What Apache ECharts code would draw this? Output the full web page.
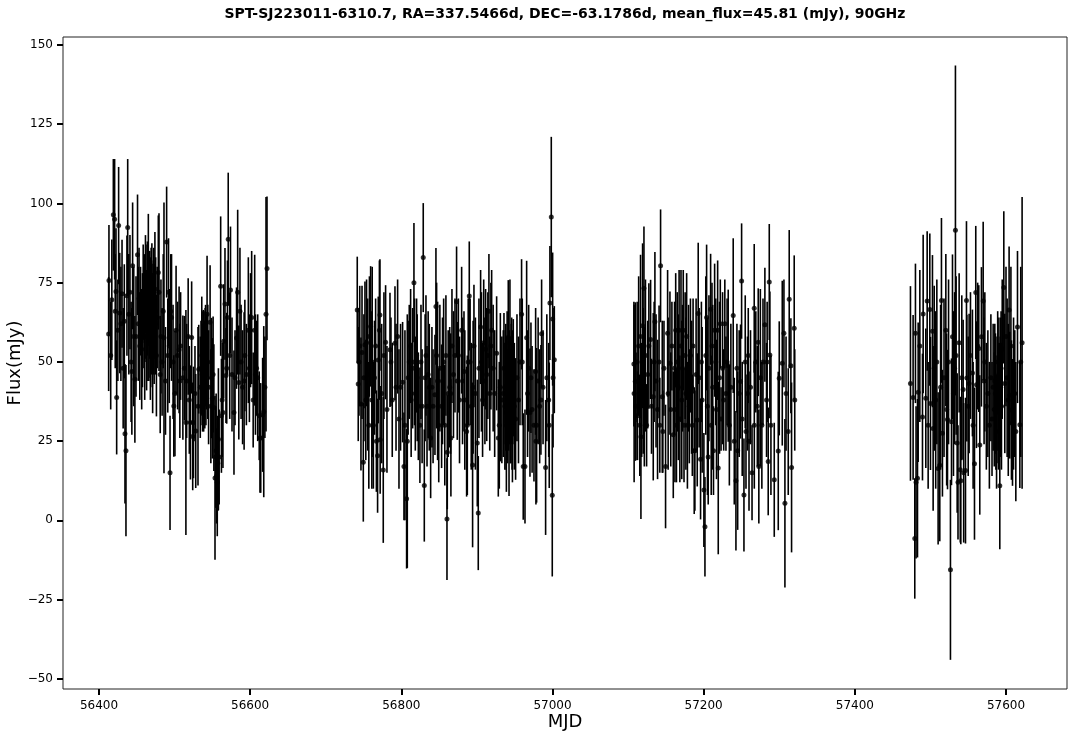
<!DOCTYPE html>
<html><head><meta charset="utf-8">
<style>html,body{margin:0;padding:0;background:#fff}#c{width:1081px;height:739px}</style>
<script src="https://cdn.jsdelivr.net/npm/echarts@6/dist/echarts.min.js"></script>
</head><body><div id="c"></div>
<script>
// each row: MJD, flux (mJy), 1-sigma error (mJy)
const season2013 = [
[56412.8,58.8,18],[56413.2,75.7,17.5],[56415.5,52,17],[56417,69.6,19],[56419,96.4,17.6],[56420.7,95,19],[56421.5,66,18],[56422.5,72.2,20],[56423.4,38.8,18],[56425,60,16],[56426,93,18.5],[56427.5,65.4,19],[56429,62,18],[56430.5,71.5,17],[56432,48,19],[56433.5,62.8,18],[56434.4,27.3,22],[56435.7,22,27],[56437,70.9,19],[56438,92.4,21.6],[56439.5,65,19],[56441,72,18],[56442.5,50,19],[56443.5,47,20],[56444.5,80.3,20],[56446,58,22],[56447.5,44.5,20],[56449,58,19],[56451,83.8,19],
[56452,62,18],[56453,70,16],[56454,55,17],[56455,66,14],[56456.5,54,19],[56457.5,60,18],[56458.5,72,15],[56459.5,64,16],[56460,70,14],[56460.5,58,20],[56461,66,15],[56461.5,75,15],[56462.3,64,14],[56463,60,19],[56463.6,72,15],[56464,70,18],[56464.7,60,16],[56465.3,78,18.7],[56466,62,18],[56466.5,70,15],[56467,68,17],[56467.6,60,15],[56468,56,18],[56468.5,68,15],[56469,72,14],[56469.6,62,16],[56470,70,17.4],[56470.5,60,18],[56471,52,18.2],[56471.5,66,15],[56472,64,18],[56472.5,72,14],[56473,60,17],[56473.5,66,15],[56474,73,18],[56474.5,62,16],[56475,66,17],[56476,52,19.2],[56477,64,16],[56478.5,78.2,18],[56479.4,72,24.9],
[56481,46,18.5],[56482,58,18],[56483.5,50,17],[56485,66,18],[56486,57.6,42.7],[56488,44,17],[56489.5,87.8,17.5],[56491,52,18],[56492,72,17],[56493,55,18],[56494,15,18],[56495,66,18],[56496,64,20],[56498,50,18],[56499,36.1,16],[56500.5,40,19.8],[56502,60,20.3],[56504,52,17],[56506,53.8,20],[56507,44,18],[56508,55,17],[56511,45,19.6],[56513,48,16.5],[56515,30.9,35.5],[56516,44,18],[56518,58,18.4],[56519.5,38,17],[56521,30.9,18],[56522.6,57.7,17.7],[56524,26.5,17],[56525,30.9,17.6],[56527,40,15],[56528,28.2,18],[56531,36,25],[56532,47.7,14],[56534,42,16],[56535,48,15],[56536,52,18.6],[56536.5,46,16],[56537,45,17],[56537.5,50,16],[56538,48,18.4],[56538.5,44,16],[56539,50,16],[56539.5,46,16],[56540,46,17],[56540.5,52,15],[56541,52,16],[56541.5,46,16],[56542,50,15],[56543,65,18.5],[56544,50,18],[56545,42,18],[56547,62.5,18],[56548,36,18],[56549,44.9,19],[56550,38.5,19],[56551,46,18.3],[56552,35.6,20],[56553.5,13.4,25.8],[56554.5,20,16],[56555,22,18],[56555.6,14,15],[56556.5,12,17],[56557.2,18,15],[56558,25.6,22.4],[56559,20,15],[56561,73.9,22],[56562,33,18],[56563,38,18],[56564,34,17.5],[56565,56.5,18],[56566.7,68.3,17.6],[56568,45.7,15],[56569,48,17.5],[56570,64,18],[56571,88.7,21],[56573,52,20],[56574,72.7,20],[56576,46,18],[56578.6,34,19.6],[56580,45,15],[56582,57.5,16],[56583.5,72,26],[56585,43.5,18],[56586.5,66,20],[56588,50,18],[56590,42,18],[56592,44,21.7],[56593,52,17.6],[56595,46,16],[56597.6,60,23],[56599,48,17],[56600.5,60,18],[56602,64,21],[56604,38,15],[56606,60,23.8],[56607,46,19],[56608.5,48,15],[56610,45,20],[56612,33,14],[56613,26,17.3],[56614,26,17.3],[56616.5,33.3,18],[56618,34.3,27],[56619.5,42,16],[56621,65,37],[56622.3,79.5,22.7]
];
const season2014 = [
[56741.7,66.4,16.8],[56743,43,18],[56744,50,17],[56745,55,19],[56746.6,36.7,21],[56748,53,21],[56749.7,18.3,18.7],[56750.5,45,20],[56751.9,55.4,20],[56753,38,19],[56754,56,20],[56755.5,46,24],[56757,30,20],[56757.8,58,19],[56759.4,61.2,19],[56761,38,28],[56761.5,50,30],[56763,30,20],[56764.5,45,18],[56766,55,15],[56767,25,16],[56768.6,20.4,18],[56769.5,50.6,20],[56771,60,22],[56771.7,64.8,17.6],[56772,25.4,17],[56774,40,22],[56776.1,15.9,23],[56777,52,20],[56779.2,56.2,18],[56781,35,20],[56785,53.8,18],[56786.3,50,14],[56788,38,18],[56791.6,55.9,18],[56793,42,20],[56795.1,58,18],[56796.9,32,22],[56799,42,20],[56801.7,43.6,19],[56803.5,17,17],[56804.8,30,30],[56807,6.8,22],[56807.9,25,40],[56809,45,18],[56810.5,50,18],[56812.3,55,18],[56813,38,18],[56815,48,19],[56816.7,75,18.8],[56817.5,50,20],[56818.5,40,18],[56820.2,52,18],[56821,45,20],[56822.5,36,17],[56824.6,30,18.2],[56826,50,18],[56827.5,36,18],[56829,82.9,17.2],[56830.4,11,17.7],[56831.5,45,20],[56832.6,52,19],[56834,36,19],[56835.5,46,20],[56837,42,20],[56838.8,26,19],[56840.5,42,19],[56842,36,18],[56844.5,39.6,19],[56845.8,67.5,18.4],[56846.7,52,23],[56848,44,25],[56849.5,30,18],[56851,48,20],[56853.3,36,19.5],[56854.5,44,20],[56856,50,20],[56857.5,30,19],[56859,52,19],[56860.4,0.4,19.2],[56860.8,21.5,18],[56862,40,20],[56864,42,19],[56865.2,40,19],[56865.6,26,18.5],[56867,55,18],[56869,46,20],[56871,52,18],[56873.1,69,17.4],[56874,44,18.6],[56875.5,52,18],[56877,38,20],[56879.8,60,20],[56881,44,20],[56882.9,47,19],[56884,38,22],[56886.4,28,20.5],[56887.3,30,22],[56888.5,50,20],[56889.9,70.8,17.2],[56891,50,20],[56892.5,36,20],[56894.3,17.5,26],[56895,42,21],[56896.1,55,19.3],[56898,40,24],[56900.5,24.4,20],[56901.8,2.3,18],[56902.7,48,22],[56904.9,61,18],[56906,50,22],[56907.5,38,18],[56909,56,20],[56910.6,44,20],[56911.5,54,19],[56913,46,21],[56914.5,52,20],[56915.9,66,18],[56917,40,18],[56918.5,55,20],[56919.5,60,19],[56921.5,48,20],[56923.5,40,20],[56926.1,52.7,18],[56928.3,26,18.5],[56929.6,30,20],[56931,42,23.4],[56933,38,20],[56934.9,40,20],[56935.8,48,17.4],[56937,36,20],[56937.6,42,18],[56938.2,42,20],[56938.7,34,18],[56939,30,21],[56939.5,40,18],[56940,46,20],[56940.6,36,18],[56941.5,57.8,18],[56942,40,18],[56942.5,32,24.3],[56943,42,18],[56943.7,56,20],[56944.3,36,18],[56945,38,20],[56945.5,44,18],[56946,44,20],[56946.5,34,18],[56947,30,18],[56947.5,42,18],[56948.1,45,18.5],[56949.5,36,20],[56951.2,32,19.2],[56953,45,20],[56955,38,20],[56957,50,20],[56959.1,65,17.4],[56960,50,20],[56961.3,17,16.8],[56963.6,17,18],[56965.8,57.6,24.3],[56967,40,20],[56968.5,48,20],[56970.2,34,20.2],[56971.5,45,17.4],[56973,35,20],[56975.5,30,17.7],[56977.7,47,20],[56978.1,25,20],[56979,30,24.4],[56981,44,20],[56983,36,18],[56984.7,38,17.3],[56985.6,58.9,17.1],[56987.5,42,18],[56990.9,16.7,21.3],[56992.5,45,20],[56995,38,18],[56995.7,30,19.8],[56996.6,68.6,18],[56998.4,95.7,25.3],[56999.7,7.9,25.6],[57000.2,63.5,21],[57000.8,45,22],[57002.4,50.7,16.9]
];
const season2015 = [
[57107.7,49.3,19.7],[57108,40,28],[57109.5,43.8,25],[57110.5,36,17],[57112,50,19],[57112.5,33,14],[57114,55,22],[57115.5,30,16],[57116.5,58,25.8],[57117,26.4,26],[57118,38,18],[57119.2,61.4,26],[57120,44,23],[57121,73.2,19.5],[57121.5,39,22],[57123,52,24],[57124.5,30,13],[57126,46,17],[57127.5,55,19.8],[57129.8,57.1,18.8],[57131,36,15],[57133.3,39,26.4],[57134.5,50,19],[57135.5,62.7,22],[57137,44,21],[57139,35,22],[57141,50,17.8],[57142,30,15],[57143,80.3,17.8],[57145.2,39,24],[57146,28,13],[57147.5,48,15],[57149.6,17,19.5],[57152.3,59,20],[57153,40,24],[57155.4,49.6,22.6],[57156.5,35,18],[57158,55,14],[57159.8,27,20],[57161.5,48,21],[57162,35,23],[57163,60,18],[57164,30,18],[57165,50,22],[57166.5,42,23],[57167.5,60,19],[57168.5,32,20],[57170,55,24],[57171,38,25],[57172,48,20],[57173,60,19],[57174,30,18],[57175.5,52,20],[57176.5,40,24],[57177.5,58,20],[57178.5,30,20],[57180,48,20],[57181,36,18],[57182.5,52,18],[57184,42,21],[57185,30,16],[57186,55,15],[57187.5,22,20],[57188.4,22,19],[57190,46,24],[57191.5,31.7,21],[57192.8,65.3,22.3],[57194,45,22],[57195.9,19.3,19],[57197,50,19],[57198,38,23],[57200.3,9.6,18],[57201.7,-2,15.7],[57202.8,52,25],[57203.9,64,23],[57205,36,28],[57206,20,15],[57207,48,23],[57209.2,66.6,17.5],[57210,30,22],[57211,55,20],[57212,42,26],[57213,22,14],[57214.5,60,21],[57216,50,20],[57217,35,22],[57218.5,60,22],[57219.3,16.5,27.2],[57221,45,24],[57222,62,14],[57223,32,10],[57225,48,24],[57226.5,38,16],[57228,62,14],[57229.5,40,18],[57231,50,20],[57232.5,48.8,24],[57234,30,19],[57236,42,20],[57239.1,64.6,24.4],[57240.5,25,20],[57242.7,12.5,22],[57244,48,14],[57245,22,25],[57247,40,20],[57248.8,43.8,18],[57250.2,75.5,18.2],[57251,32,18],[57253.3,8,17.8],[57255,50,21],[57256,28,18],[57258,40,18],[57259,52,15],[57260,25,22],[57262,42,18],[57264,15,15],[57266.9,66.9,20.3],[57267,30,20],[57269,50,16],[57271,36,19],[57272.2,56.2,17],[57273,17,18],[57275,45,28],[57277,30,20],[57278.5,50,20],[57281,61.7,18],[57283.2,38,18],[57284,50,19],[57285.4,18.6,17],[57286.8,75.2,18.3],[57287.6,52.2,20],[57289,30,22],[57293.4,12.8,18],[57298.7,21.9,25],[57300,44.8,18],[57304,49.6,26],[57306.2,59,17],[57307.5,5.4,26.6],[57309,40,18],[57311.9,28,20],[57313.2,69.8,21.8],[57315.4,48.8,15],[57316.3,16.7,26.8],[57319.8,60.6,23],[57320.5,38,16]
];
const season2016 = [
[57473.6,43.2,30.7],[57477.1,38.8,26],[57479.3,-5.7,19],[57480.2,59,22],[57481,12,24],[57482.9,13.3,25],[57483.8,40.4,22],[57486,55,24],[57489.5,32.6,20],[57490.4,65.1,25],[57493.9,38.5,22],[57495.7,69.2,22],[57497,30,20],[57499.2,66.5,24],[57500.1,36.9,21],[57502.7,59.7,24],[57503.6,29,26],[57505,48,26],[57507,38,28],[57508.5,50,26],[57510.2,16.4,24],[57512.4,17.4,24],[57513.5,42,26],[57514.6,69.4,26],[57515.9,27.5,20],[57518,45,25],[57520.4,60,24],[57521.5,35,24],[57522.6,31.8,22],[57524,50,26],[57526.5,-15.6,28.4],[57527.9,31.1,20],[57529.2,57.9,26],[57530.5,40,26],[57532,48,24],[57533.1,91.5,52],[57534,52,25],[57535.4,24.4,22],[57536.5,12,18],[57538,56,22],[57539.5,16,23],[57540.2,12.5,20],[57541.5,45,26],[57543.3,41.3,22],[57544,15,22],[57546.4,15.7,23],[57547.7,69.4,25],[57548.2,44.9,20],[57550,36,22],[57551.2,43.2,22],[57553,52,20],[57555.6,46.5,20],[57556.5,30,20],[57558.3,17.9,24],[57560,71.9,21],[57560.9,42.8,20],[57562.5,55,20],[57564,54.2,20],[57565.3,23.8,22],[57567.5,57.9,22],[57569.8,69.2,25],[57571,44,20],[57572,50,22],[57574,36,20],[57576,40,20],[57578,30,20],[57580,45,20],[57581.5,32,18],[57583,42,20],[57584.5,35,18],[57585.2,44,18],[57586,40,19],[57586.6,34,18],[57587.5,28,18],[57588.2,40,18],[57589,50,16],[57589.5,36,18],[57590,36,20],[57590.6,46,18],[57591.2,38,18],[57591.8,10.9,20],[57592.4,40,18],[57593,42,22],[57593.5,48,18],[57594,36,20],[57595,54,22],[57597.1,73.5,24],[57598.4,43.2,22],[57600,58,22],[57601.5,45,25],[57603,38,24],[57604.1,66.4,20],[57605,39.5,20],[57606.5,55,25],[57607.2,34.8,22],[57608.6,30.9,20],[57610,40,24],[57611.6,40,20],[57613,28,22],[57615.2,61,24],[57618.3,30.2,20],[57619.5,50,30],[57621.3,56,46]
];
const xTicks = [56400,56600,56800,57000,57200,57400,57600];
const yTicks = [-50,-25,0,25,50,75,100,125,150];
const titleText = 'SPT-SJ223011-6310.7, RA=337.5466d, DEC=-63.1786d, mean_flux=45.81 (mJy), 90GHz';

const rows = [].concat(season2013, season2014, season2015, season2016);
const font = 'DejaVu Sans';
const chart = echarts.init(document.getElementById('c'), null, {renderer:'canvas'});
const axisCommon = {
  type:'value', nameLocation:'middle', nameMoveOverlap:false,
  nameTextStyle:{fontFamily:font,fontSize:18,color:'#000'},
  axisLine:{show:false,onZero:false}, splitLine:{show:false}, minorTick:{show:false},
  axisTick:{show:true,length:6,inside:false,lineStyle:{color:'#000',width:2}}
};
function mk(o, ticks, margin){
  const a = Object.assign({}, axisCommon, o);
  a.axisLabel = {fontFamily:font,fontSize:12,color:'#000',margin:margin,hideOverlap:false,
    customValues:ticks, formatter:v=>String(v).replace('-','\u2212')};
  a.axisTick = Object.assign({}, axisCommon.axisTick, {customValues:ticks});
  return a;
}
chart.setOption({
  animation:false, backgroundColor:'#fff',
  title:{text:titleText,left:560,top:2,textAlign:'center',
    textStyle:{fontFamily:font,fontSize:14,fontWeight:'bold',color:'#000'}},
  grid:{left:63,right:14,top:37,bottom:50,outerBoundsMode:'none',show:true,borderColor:'#222',borderWidth:1,backgroundColor:'#fff'},
  xAxis:mk({name:'MJD',nameGap:24,min:56352.4,max:57680.7},xTicks,11),
  yAxis:mk({name:'Flux(mJy)',nameGap:39,min:-53.2,max:152.5},yTicks,10),
  series:[
    {type:'custom',data:rows,encode:{x:0,y:1},clip:false,silent:true,
     renderItem:function(p,api){
       const x=api.value(0),y=api.value(1),e=api.value(2);
       const a=api.coord([x,y-e]),b=api.coord([x,y+e]);
       return {type:'line',shape:{x1:a[0],y1:a[1],x2:b[0],y2:b[1]},
         style:{stroke:'#000',lineWidth:1.6}};
     }},
    {type:'scatter',data:rows.map(r=>[r[0],r[1]]),symbol:'circle',symbolSize:5,
     itemStyle:{color:'#000'},silent:true,clip:false}
  ]
});
</script></body></html>
